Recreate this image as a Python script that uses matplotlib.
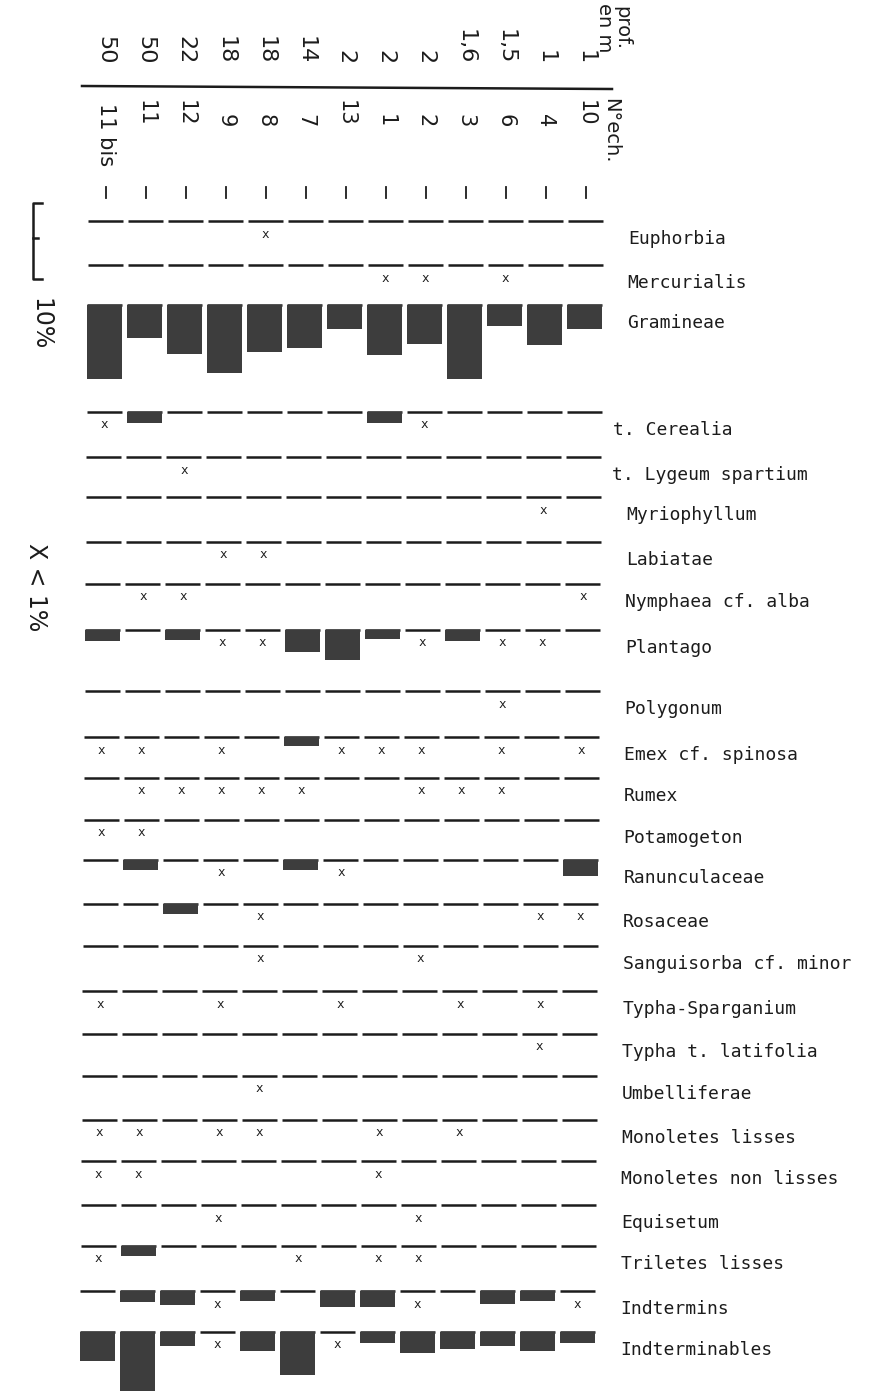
import matplotlib.pyplot as plt

# en-tete : profondeur (m) et numero d'echantillon
depths = ['50', '50', '22', '18', '18', '14', '2', '2', '2', '1,6', '1,5', '1', '1']
samples = ['11 bis', '11', '12', '9', '8', '7', '13', '1', '2', '3', '6', '4', '10']

X = 'x'   # present, < 1 %
_ = 0     # absent

# pourcentages par echantillon (meme ordre que samples)
euphorbia      = [_, _, _, _, X, _, _, _, _, _, _, _, _]
mercurialis    = [_, _, _, _, _, _, _, X, X, _, X, _, _]
gramineae      = [9.8, 4.4, 6.5, 9.0, 6.2, 5.6, 3.2, 6.6, 5.1, 9.8, 2.7, 5.2, 3.1]
cerealia       = [X, 1.45, _, _, _, _, _, 1.5, X, _, _, _, _]
lygeum         = [_, _, X, _, _, _, _, _, _, _, _, _, _]
myriophyllum   = [_, _, _, _, _, _, _, _, _, _, _, X, _]
labiatae       = [_, _, _, X, X, _, _, _, _, _, _, _, _]
nymphaea       = [_, X, X, _, _, _, _, _, _, _, _, _, X]
plantago       = [1.4, _, 1.3, X, X, 2.9, 3.9, 1.2, X, 1.5, X, X, _]
polygonum      = [_, _, _, _, _, _, _, _, _, _, X, _, _]
emex           = [X, X, _, X, _, 1.2, X, X, X, _, X, _, X]
rumex          = [_, X, X, X, X, X, _, _, X, X, X, _, _]
potamogeton    = [X, X, _, _, _, _, _, _, _, _, _, _, _]
ranunculaceae  = [_, 1.3, _, X, _, 1.3, X, _, _, _, _, _, 2.1]
rosaceae       = [_, _, 1.3, _, X, _, _, _, _, _, _, X, X]
sanguisorba    = [_, _, _, _, X, _, _, _, X, _, _, _, _]
typha_sparg    = [X, _, _, X, _, _, X, _, _, X, _, X, _]
typha_latif    = [_, _, _, _, _, _, _, _, _, _, _, X, _]
umbelliferae   = [_, _, _, _, X, _, _, _, _, _, _, _, _]
monol_lisses   = [X, X, _, X, X, _, _, X, _, X, _, _, _]
monol_nonliss  = [X, X, _, _, _, _, _, X, _, _, _, _, _]
equisetum      = [_, _, _, X, _, _, _, _, X, _, _, _, _]
triletes       = [X, 1.3, _, _, _, X, _, X, X, _, _, _, _]
indtermins     = [_, 1.4, 1.8, X, 1.3, _, 2.1, 2.1, X, _, 1.7, 1.3, X]
indterminables = [3.8, 8.0, 1.8, X, 2.5, 5.7, X, 1.4, 2.8, 2.2, 1.8, 2.5, 1.45]

taxa = [
    ('Euphorbia', euphorbia), ('Mercurialis', mercurialis), ('Gramineae', gramineae),
    ('t. Cerealia', cerealia), ('t. Lygeum spartium', lygeum),
    ('Myriophyllum', myriophyllum), ('Labiatae', labiatae),
    ('Nymphaea cf. alba', nymphaea), ('Plantago', plantago),
    ('Polygonum', polygonum), ('Emex cf. spinosa', emex), ('Rumex', rumex),
    ('Potamogeton', potamogeton), ('Ranunculaceae', ranunculaceae),
    ('Rosaceae', rosaceae), ('Sanguisorba cf. minor', sanguisorba),
    ('Typha-Sparganium', typha_sparg), ('Typha t. latifolia', typha_latif),
    ('Umbelliferae', umbelliferae), ('Monoletes lisses', monol_lisses),
    ('Monoletes non lisses', monol_nonliss), ('Equisetum', equisetum),
    ('Triletes lisses', triletes), ('Indtermins', indtermins),
    ('Indterminables', indterminables),
]

# mise en page (pixels)
row_y = [221, 265, 305, 412, 457, 497, 542, 584, 630, 691, 737, 778, 820,
         860, 904, 946, 991, 1034, 1076, 1120, 1161, 1205, 1246, 1291, 1332]
PX_PCT = 7.6          # 10 % = 76 px
COL0, PITCH, DASH = 105.5, 40, 35
INK = '#1c1c1c'
BAR = '#3d3d3d'
MONO = 'DejaVu Sans Mono'


def skew(x, y):
    # la page est legerement tournee
    return x - 8.0 * (y - 220) / 1110


fig = plt.figure(figsize=(8.75, 13.91), dpi=100)
ax = fig.add_axes([0, 0, 1, 1])
ax.set_xlim(0, 875)
ax.set_ylim(1391, 0)
ax.axis('off')

col_x = [COL0 + PITCH * i for i in range(len(samples))]

# en-tete
for cx, d, s in zip(col_x, depths, samples):
    ax.text(cx, 64, d, rotation=-90, ha='center', va='bottom', fontsize=16, color=INK)
    if s == '11 bis':
        ax.text(cx, 103, s, rotation=-90, ha='center', va='top', fontsize=15, color=INK)
    else:
        ax.text(cx, 127, s, rotation=-90, ha='center', va='bottom', fontsize=15, color=INK)
    ax.plot([cx, cx], [187, 198], color=INK, lw=1.3)
ax.plot([82, 612], [86, 89], color=INK, lw=1.8)
ax.text(613, 3, 'prof.\nen m', rotation=-90, ha='center', va='top', fontsize=14,
        color=INK, linespacing=0.85)
ax.text(611, 98, 'N°ech.', rotation=-90, ha='center', va='top', fontsize=14, color=INK)

# echelle 10 %
ax.plot([42, 33, 33, 42], [203, 203, 279, 279], color=INK, lw=1.8)
ax.plot([33, 38], [238, 238], color=INK, lw=1.8)
ax.text(40, 298, '10%', rotation=-90, ha='center', va='top', fontsize=17, color=INK)
ax.text(36, 543, 'X < 1%', rotation=-90, ha='center', va='top', fontsize=17, color=INK)

# diagramme
for (name, vals), y in zip(taxa, row_y):
    for cx, v in zip(col_x, vals):
        x = skew(cx, y)
        ax.plot([x - DASH / 2, x + DASH / 2], [y, y], color=INK, lw=1.8,
                solid_capstyle='butt')
        if v == X:
            ax.text(x, y + 13, 'x', ha='center', va='center', fontsize=9,
                    family=MONO, color=INK)
        elif v:
            ax.bar(x, v * PX_PCT, bottom=y, width=DASH, color=BAR, zorder=3)
    lx = 614 if name.startswith('t.') else 628
    ax.text(skew(lx, y), y + 18, name, ha='left', va='center', fontsize=13,
            family=MONO, color=INK)

fig.savefig('out.png', dpi=100)
